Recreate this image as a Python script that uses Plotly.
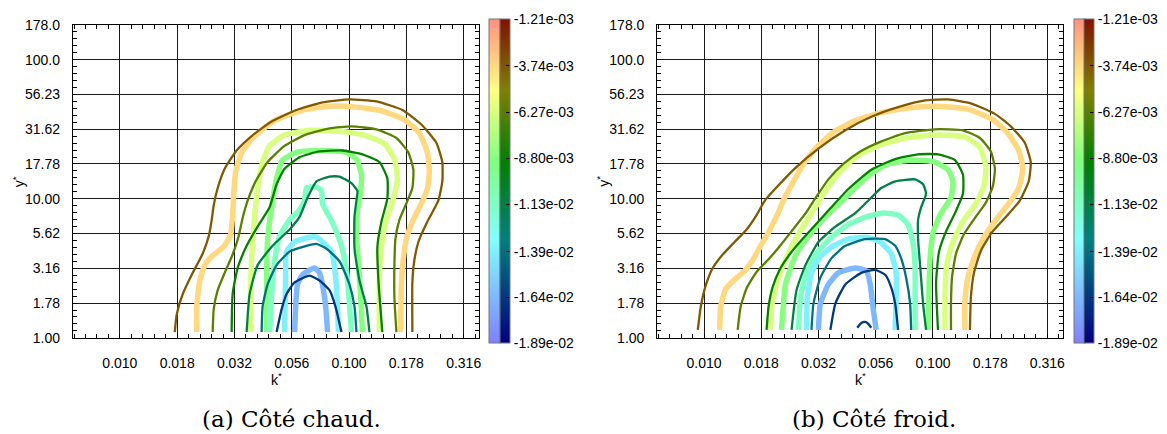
import plotly.graph_objects as go
from plotly.colors import sample_colorscale

# ---------------- levels / colour bar ----------------
VMIN, VMAX = -1.89e-02, -1.21e-03
CBAR_TICKS = [-1.21e-03, -3.74e-03, -6.27e-03, -8.80e-03, -1.13e-02, -1.39e-02, -1.64e-02, -1.89e-02]
LEVELS = [-3.74e-03, -6.27e-03, -8.80e-03, -1.13e-02, -1.39e-02, -1.64e-02]

K_TICKS = [0.01, 0.01778, 0.03162, 0.05623, 0.1, 0.1778, 0.3162]
K_TICKTEXT = ["0.010", "0.018", "0.032", "0.056", "0.100", "0.178", "0.316"]
Y_TICKS = [1.0, 1.778, 3.162, 5.623, 10.0, 17.78, 31.62, 56.23, 100.0, 177.8]
Y_TICKTEXT = ["1.00", "1.78", "3.16", "5.62", "10.00", "17.78", "31.62", "56.23", "100.0", "178.0"]

CAPTIONS = ["(a) Côté chaud.", "(b) Côté froid."]
X_TITLE = "k<sup>*</sup>"
Y_TITLE = "y<sup>*</sup>"

# ---------------- (a) Côté chaud : thick (light) contours ----------------
A_THICK1_K = [0.02165,0.02165,0.02231,0.02346,0.02541,0.02838,0.03043,0.03105,0.03136,0.03200,0.03399,0.03873,0.04733,0.06266,0.08214,0.1077,0.1397,0.1743,0.2026,0.2195,0.2240,0.2195,0.2067,0.1889,0.1778,0.1726,0.1692,0.1675]
A_THICK1_Y = [1.10,1.679,2.582,3.333,3.910,4.512,5.552,7.638,10.51,15.65,21.54,28.24,36.45,43.44,46.30,45.57,42.75,37.03,29.62,21.54,15.65,11.75,9.250,6.831,5.126,3.727,2.501,1.10]
A_THICK2_K = [0.03720,0.03720,0.03758,0.03834,0.03912,0.04031,0.04196,0.04501,0.05232,0.06722,0.09082,0.1167,0.1426,0.1577,0.1625,0.1561,0.1455,0.1384,0.1356,0.1356]
A_THICK2_Y = [1.10,1.969,3.727,6.013,8.959,13.35,18.36,24.08,28.70,31.07,30.58,28.70,24.86,19.27,14.00,10.02,7.052,4.585,2.709,1.10]
A_THICK3_K = [0.04368,0.04368,0.04412,0.04592,0.04829,0.05128,0.05901,0.07431,0.09744,0.1077,0.1133,0.1121,0.1088,0.1077,0.1099,0.1121,0.1144]
A_THICK3_Y = [1.10,2.709,5.126,8.677,14.00,18.96,21.54,22.23,21.54,19.27,14.92,11.02,8.272,5.552,3.441,2.133,1.10]
A_THICK4_K = [0.04501,0.04592,0.04733,0.04976,0.05501,0.06081,0.06393,0.06523,0.07211,0.07582,0.07658,0.08465,0.09266,0.09744,0.1004,0.1024]
A_THICK4_Y = [1.10,2.066,3.553,5.377,7.052,8.272,9.700,11.94,12.13,11.38,9.250,6.723,4.585,3.029,1.762,1.10]
A_THICK5_K = [0.05232,0.05285,0.05338,0.05784,0.06722,0.07211,0.07658,0.08381,0.08724,0.08901,0.08990]
A_THICK5_Y = [1.10,2.709,4.167,4.887,5.292,5.292,4.887,4.167,2.842,1.679,1.10]
A_THICK6_K = [0.05784,0.05960,0.06266,0.07068,0.07431,0.07814,0.07973,0.08052]
A_THICK6_Y = [1.10,2.423,2.842,3.178,2.934,1.969,1.431,1.10]

# ---------------- (a) Côté chaud : thin (dark) contours ----------------
A_THIN1_K = [0.01736,0.01771,0.01881,0.02059,0.02299,0.02442,0.02516,0.02567,0.02672,0.02867,0.03232,0.03758,0.04592,0.05901,0.07658,0.1004,0.1316,0.1709,0.2088,0.2403,0.2552,0.2552,0.2451,0.2195,0.2006,0.1927,0.1889,0.1889]
A_THIN1_Y = [1.10,1.478,2.066,2.842,4.036,5.377,7.052,8.959,11.94,16.42,22.23,28.24,35.87,43.44,49.35,51.76,50.14,43.44,33.65,25.26,18.36,13.35,9.700,6.831,4.887,3.611,2.501,1.10]
A_THIN2_K = [0.02541,0.02567,0.02672,0.02867,0.03105,0.03298,0.03433,0.03610,0.03912,0.04412,0.05180,0.06393,0.08214,0.1024,0.1316,0.1609,0.1814,0.1908,0.1889,0.1778,0.1658,0.1593,0.1577,0.1577,0.1609]
A_THIN2_Y = [1.10,1.601,2.202,2.934,3.972,5.377,7.282,9.700,13.35,18.36,23.70,28.70,32.08,33.12,31.57,27.35,21.54,16.16,11.94,9.250,7.052,5.126,3.333,1.969,1.10]
A_THIN3_K = [0.03074,0.03105,0.03265,0.03574,0.03991,0.04501,0.04829,0.05232,0.06081,0.07431,0.09359,0.1144,0.1356,0.1469,0.1469,0.1384,0.1329,0.1343,0.1397]
A_THIN3_Y = [1.10,2.066,3.178,4.585,6.308,8.677,12.72,16.42,19.89,21.88,22.23,20.86,18.36,14.00,10.02,6.831,4.512,2.582,1.10]
A_THIN4_K = [0.03574,0.03683,0.03991,0.04638,0.05501,0.06081,0.06588,0.07211,0.08214,0.09082,0.1024,0.1088,0.1077,0.1056,0.1056,0.1110,0.1191,0.1227]
A_THIN4_Y = [1.10,2.066,3.333,4.585,6.013,7.399,10.18,13.35,14.45,14.45,12.93,11.38,9.700,7.399,4.371,2.582,1.679,1.10]
A_THIN5_K = [0.04155,0.04196,0.04412,0.04829,0.05501,0.06523,0.07211,0.07973,0.09082,0.1004,0.1056,0.1077]
A_THIN5_Y = [1.10,1.679,2.423,3.333,4.167,4.585,4.733,4.371,3.553,2.423,1.679,1.10]
A_THIN6_K = [0.04829,0.05077,0.05338,0.05784,0.06722,0.07431,0.08214,0.08724,0.09266]
A_THIN6_Y = [1.10,1.601,2.066,2.501,2.797,2.582,2.202,1.679,1.10]

# ---------------- (b) Côté froid : thick (light) contours ----------------
B_THICK1_K = [0.01170,0.01182,0.01243,0.01360,0.01504,0.01629,0.01766,0.01932,0.02094,0.02247,0.02459,0.02718,0.03096,0.03672,0.04578,0.05883,0.07790,0.1021,0.1421,0.1827,0.2124,0.2371,0.2469,0.2371,0.2145,0.1883,0.1670,0.1526,0.1421,0.1379,0.1379]
B_THICK1_Y = [1.14,1.679,2.237,2.624,3.029,3.611,4.585,5.918,7.761,10.18,13.35,17.78,23.32,30.10,36.45,41.40,44.85,46.30,44.13,37.03,29.62,22.23,16.42,11.94,9.250,7.052,5.292,3.910,2.709,1.818,1.14]
B_THICK2_K = [0.01952,0.01972,0.02053,0.02158,0.02315,0.02508,0.02773,0.03065,0.03388,0.03861,0.04578,0.05767,0.07559,0.1021,0.1379,0.1604,0.1704,0.1670,0.1541,0.1352,0.1223,0.1152,0.1129,0.1129]
B_THICK2_Y = [1.14,1.679,2.273,2.981,3.910,5.126,6.723,8.677,11.38,15.16,19.89,24.08,27.35,28.70,27.80,23.32,16.95,12.32,9.250,6.831,4.926,3.441,2.133,1.14]
B_THICK3_K = [0.02180,0.02269,0.02508,0.02858,0.03388,0.04142,0.05062,0.06186,0.08029,0.1021,0.1164,0.1223,0.1199,0.1085,0.1001,0.09714,0.09521]
B_THICK3_Y = [1.14,2.423,3.910,5.377,7.399,10.18,14.00,17.50,18.96,18.36,16.16,13.35,10.18,7.885,5.732,3.727,1.14]
B_THICK4_K = [0.02585,0.02638,0.02801,0.03096,0.03599,0.04269,0.05113,0.06063,0.07047,0.07790,0.08191,0.08355,0.08355,0.08355]
B_THICK4_Y = [1.14,1.969,2.934,4.036,5.292,6.512,7.399,7.885,7.638,6.512,4.733,3.178,1.969,1.14]
B_THICK5_K = [0.02801,0.02829,0.02946,0.03222,0.03672,0.04269,0.05113,0.05883,0.06569,0.06907,0.06907,0.06838]
B_THICK5_Y = [1.14,1.969,2.934,3.848,4.585,5.126,5.292,4.887,4.036,2.934,1.969,1.14]
B_THICK6_K = [0.03159,0.03222,0.03492,0.03861,0.04578,0.05113,0.05322,0.05485,0.0565]
B_THICK6_Y = [1.14,1.762,2.423,2.934,3.178,3.029,2.423,1.601,1.14]

# ---------------- (b) Côté froid : thin (dark) contours ----------------
B_THIN1_K = [0.009388,0.009675,0.01017,0.01091,0.01206,0.01360,0.01534,0.01696,0.01856,0.02115,0.02508,0.03159,0.04142,0.05376,0.07047,0.09238,0.1164,0.1465,0.1865,0.2189,0.2519,0.2675,0.2621,0.2396,0.2082,0.1809,0.1620,0.1511,0.1465,0.1451]
B_THIN1_Y = [1.14,1.679,2.385,3.178,3.972,4.887,6.013,7.638,9.858,12.52,16.69,22.95,31.07,38.84,45.57,50.95,51.76,48.57,40.75,33.12,25.26,18.36,13.35,9.700,7.399,5.732,4.234,2.934,1.969,1.14]
B_THIN2_K = [0.01402,0.01445,0.01534,0.01696,0.01913,0.02180,0.02483,0.02801,0.03096,0.03492,0.04060,0.04814,0.05883,0.07559,0.1021,0.1352,0.1604,0.1791,0.1865,0.1827,0.1704,0.1526,0.1365,0.1261,0.1211,0.1199,0.1199]
B_THIN2_Y = [1.14,1.679,2.273,2.981,3.667,4.733,6.208,8.012,10.34,13.78,17.78,21.88,25.66,29.62,31.57,31.07,27.35,21.88,16.42,12.32,9.397,7.282,5.552,4.036,2.709,1.818,1.14]
B_THIN3_K = [0.01875,0.01913,0.01992,0.02137,0.02362,0.02691,0.03096,0.03563,0.04269,0.05376,0.06838,0.08611,0.1052,0.1248,0.1352,0.1352,0.1248,0.1141,0.1063,0.1032,0.1052]
B_THIN3_Y = [1.14,1.679,2.310,3.078,3.972,5.126,6.617,8.540,11.75,16.16,19.27,20.86,20.86,18.96,14.92,10.85,7.885,5.824,4.167,2.501,1.14]
B_THIN4_K = [0.02411,0.02534,0.02773,0.03159,0.03746,0.04578,0.05376,0.05943,0.06838,0.08355,0.09054,0.09332,0.08875,0.08611,0.08611,0.08786,0.09054,0.09332]
B_THIN4_Y = [1.14,2.202,3.333,4.887,6.308,7.885,10.18,11.94,13.35,13.78,12.72,10.85,8.677,7.052,5.126,3.333,1.762,1.14]
B_THIN5_K = [0.02946,0.03005,0.03222,0.03599,0.04142,0.05062,0.06186,0.06838,0.07262,0.07635,0.07948,0.08029]
B_THIN5_Y = [1.14,1.762,2.709,3.727,4.585,5.126,5.126,4.585,3.727,2.709,1.762,1.14]
B_THIN6_K = [0.03563,0.03746,0.04142,0.04863,0.05596,0.06186,0.06569,0.06838,0.07047]
B_THIN6_Y = [1.14,1.762,2.423,2.934,3.078,2.842,2.310,1.762,1.14]
B_THIN6B_K = [0.04671,0.04863,0.05062,0.05216,0.05376]
B_THIN6B_Y = [1.182,1.280,1.301,1.260,1.182]

# ---------------- colour maps ----------------
DARK_CS = [[0.0, "#000080"], [0.32, "#008080"], [0.56, "#008000"], [0.78, "#808000"], [1.0, "#801000"]]
LIGHT_CS = [[0.0, "#8080ff"], [0.32, "#80ffff"], [0.56, "#80ff80"], [0.78, "#ffff80"], [1.0, "#ff9080"]]

W, H = 1167, 434
PANELS = [
    dict(xa="x", ya="y", xdom=(73, 480.3), cb=(490, 501), cap_x=0.25),
    dict(xa="x2", ya="y2", xdom=(658.3, 1065), cb=(1075.7, 1086), cap_x=0.75),
]

CONTOURS = [
    # (panel, kind, level index, k, y)
    (0, "thick", 0, A_THICK1_K, A_THICK1_Y), (0, "thick", 1, A_THICK2_K, A_THICK2_Y),
    (0, "thick", 2, A_THICK3_K, A_THICK3_Y), (0, "thick", 3, A_THICK4_K, A_THICK4_Y),
    (0, "thick", 4, A_THICK5_K, A_THICK5_Y), (0, "thick", 5, A_THICK6_K, A_THICK6_Y),
    (1, "thick", 0, B_THICK1_K, B_THICK1_Y), (1, "thick", 1, B_THICK2_K, B_THICK2_Y),
    (1, "thick", 2, B_THICK3_K, B_THICK3_Y), (1, "thick", 3, B_THICK4_K, B_THICK4_Y),
    (1, "thick", 4, B_THICK5_K, B_THICK5_Y), (1, "thick", 5, B_THICK6_K, B_THICK6_Y),
    (0, "thin", 0, A_THIN1_K, A_THIN1_Y), (0, "thin", 1, A_THIN2_K, A_THIN2_Y),
    (0, "thin", 2, A_THIN3_K, A_THIN3_Y), (0, "thin", 3, A_THIN4_K, A_THIN4_Y),
    (0, "thin", 4, A_THIN5_K, A_THIN5_Y), (0, "thin", 5, A_THIN6_K, A_THIN6_Y),
    (1, "thin", 0, B_THIN1_K, B_THIN1_Y), (1, "thin", 1, B_THIN2_K, B_THIN2_Y),
    (1, "thin", 2, B_THIN3_K, B_THIN3_Y), (1, "thin", 3, B_THIN4_K, B_THIN4_Y),
    (1, "thin", 4, B_THIN5_K, B_THIN5_Y), (1, "thin", 5, B_THIN6_K, B_THIN6_Y),
    (1, "thin", 5, B_THIN6B_K, B_THIN6B_Y),
]

FONT = "Liberation Sans"


def level_color(level, cs):
    t = (level - VMIN) / (VMAX - VMIN)
    return sample_colorscale(cs, [t])[0]


fig = go.Figure()

for panel, kind, li, ks, ys in CONTOURS:
    p = PANELS[panel]
    cs = LIGHT_CS if kind == "thick" else DARK_CS
    fig.add_trace(go.Scatter(
        x=ks, y=ys, mode="lines", xaxis=p["xa"], yaxis=p["ya"],
        line=dict(color=level_color(LEVELS[li], cs), width=5.5 if kind == "thick" else 2.3,
                  shape="spline", smoothing=0.5),
        showlegend=False, hoverinfo="skip"))

# colour bars (two columns: light + dark)
cb_len = (343 - 17 + 10) / H
cb_y = (H - 180) / H
for p in PANELS:
    fig.add_trace(go.Scatter(
        x=[None], y=[None], mode="markers", xaxis=p["xa"], yaxis=p["ya"], showlegend=False,
        marker=dict(color=[VMIN], cmin=VMIN, cmax=VMAX, colorscale=LIGHT_CS, showscale=True,
                    colorbar=dict(x=p["cb"][0] / W, xanchor="left", xpad=0, ypad=0,
                                  thickness=11, thicknessmode="pixels",
                                  len=cb_len, lenmode="fraction", y=cb_y, yanchor="middle",
                                  outlinecolor="#777777", outlinewidth=1,
                                  showticklabels=False, ticks=""))))
    fig.add_trace(go.Scatter(
        x=[None], y=[None], mode="markers", xaxis=p["xa"], yaxis=p["ya"], showlegend=False,
        marker=dict(color=[VMIN], cmin=VMIN, cmax=VMAX, colorscale=DARK_CS, showscale=True,
                    colorbar=dict(x=p["cb"][1] / W, xanchor="left", xpad=0, ypad=0,
                                  thickness=10, thicknessmode="pixels",
                                  len=cb_len, lenmode="fraction", y=cb_y, yanchor="middle",
                                  outlinecolor="#777777", outlinewidth=1,
                                  tickmode="array", tickvals=CBAR_TICKS,
                                  ticktext=[f"{v:.2e}" for v in CBAR_TICKS],
                                  ticks="inside", ticklen=4, tickcolor="black",
                                  tickfont=dict(family=FONT, size=14, color="black")))))

x_minor = [10 ** (-2.2 + 0.05 * i) for i in range(36) if i % 5 != 4]
y_minor = [10 ** (0.05 * i) for i in range(1, 45) if i % 5 != 0]

tickfont = dict(family=FONT, size=14, color="black")
common = dict(type="log", showline=True, linecolor="black", linewidth=1, mirror="ticks",
              ticks="inside", ticklen=4, tickcolor="black", tickwidth=1,
              showgrid=True, gridcolor="#1a1a1a", gridwidth=1, zeroline=False,
              tickfont=tickfont, tickmode="array")

layout = dict(width=W, height=H, margin=dict(l=0, r=0, t=0, b=0),
              paper_bgcolor="white", plot_bgcolor="white", showlegend=False)
ydom = ((H - 342.5) / H, (H - 17.5) / H)
annotations = []
for i, p in enumerate(PANELS):
    sfx = "" if i == 0 else "2"
    layout["xaxis" + sfx] = dict(
        common, domain=[p["xdom"][0] / W, p["xdom"][1] / W], range=[-2.205, -0.431],
        anchor="y" + sfx, tickvals=K_TICKS, ticktext=K_TICKTEXT, ticklabelstandoff=12,
        minor=dict(tickmode="array", tickvals=x_minor, ticks="inside", ticklen=4,
                   tickcolor="black", showgrid=False))
    layout["yaxis" + sfx] = dict(
        common, domain=list(ydom), range=[-0.0002, 2.2502],
        anchor="x" + sfx, tickvals=Y_TICKS, ticktext=Y_TICKTEXT, ticklabelstandoff=9,
        minor=dict(tickmode="array", tickvals=y_minor, ticks="inside", ticklen=4,
                   tickcolor="black", showgrid=False))
    # axis titles
    annotations.append(dict(text=X_TITLE, x=(p["xdom"][0] + p["xdom"][1]) / 2 / W, y=(H - 385) / H,
                            xref="paper", yref="paper", xanchor="center", yanchor="middle",
                            showarrow=False, font=tickfont))
    annotations.append(dict(text=Y_TITLE, x=(p["xdom"][0] - 54) / W, y=(H - 180) / H,
                            xref="paper", yref="paper", xanchor="center", yanchor="middle",
                            textangle=-90, showarrow=False, font=tickfont))
    # caption
    annotations.append(dict(text=CAPTIONS[i], x=p["cap_x"], y=(H - 427) / H, xref="paper", yref="paper",
                            xanchor="center", yanchor="middle", showarrow=False,
                            font=dict(family="DejaVu Serif", size=23, color="black")))

layout["annotations"] = annotations
fig.update_layout(**layout)
fig.write_html("out.html")
